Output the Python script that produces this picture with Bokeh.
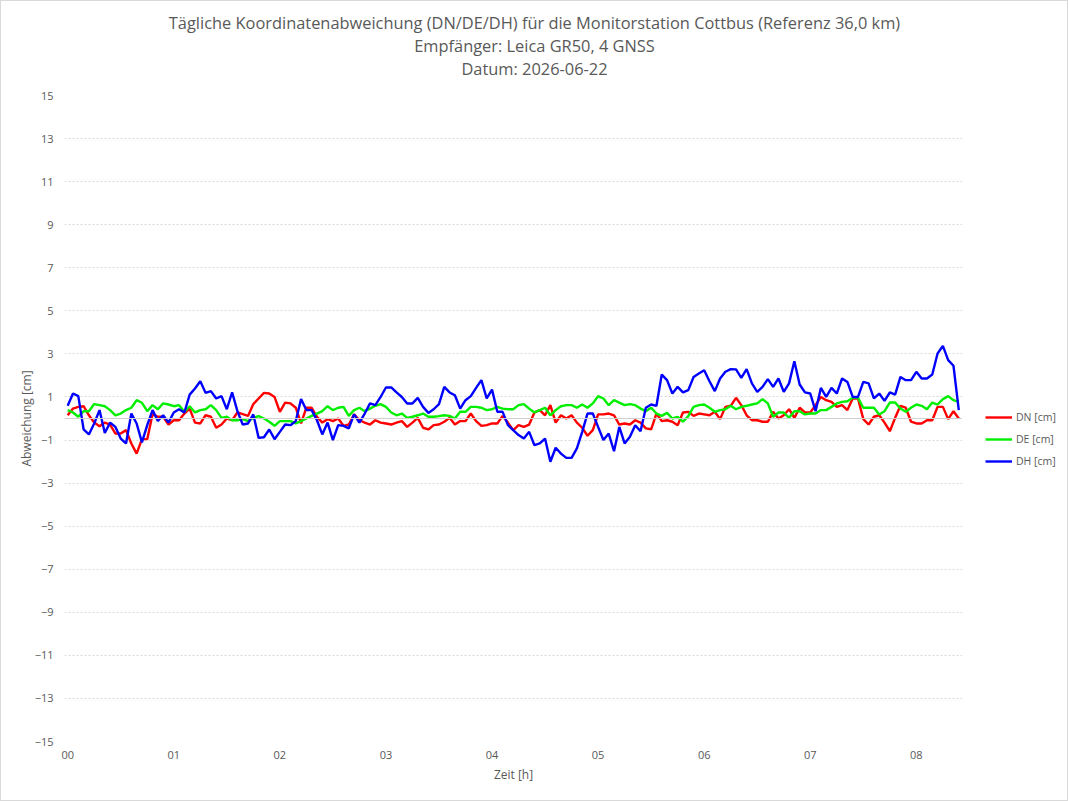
from bokeh.plotting import figure
from bokeh.models import Range1d, FixedTicker, Legend, LegendItem, Span, ColumnDataSource
from bokeh.layouts import column, row
from bokeh.core.properties import value
from bokeh.embed import file_html
from bokeh.resources import INLINE

# ---- data (3-minute samples, hours 0 .. 8.4) ----
minutes = list(range(0, 505, 3))
hours = [m / 60 for m in minutes]

dn = [0.15, 0.46, 0.54, 0.57, 0.15, -0.19, -0.36, -0.19, -0.28, -0.7, -0.7, -0.54, -1.16, -1.63, -0.96, -0.96, 0.2, 0.08, 0.08, -0.28,
      -0.08, -0.08, 0.23, 0.46, -0.19, -0.23, 0.15, 0.08, -0.43, -0.28, 0.0, -0.08, 0.28, 0.2, 0.12, 0.67, 0.93, 1.19, 1.16, 1.0,
      0.31, 0.74,
      0.7, 0.5, -0.23, 0.5, 0.5, 0.08, -0.19, -0.03, -0.12, 0.0, -0.34, -0.28, 0.19, -0.08, -0.19, -0.28, -0.08, -0.19, -0.23, -0.28,
      -0.19, -0.12, -0.39, -0.19, 0.03, -0.43, -0.51, -0.31, -0.28, -0.15, 0.03, -0.28, -0.12, -0.12, 0.23, -0.12, -0.34, -0.31, -0.23, -0.23,
      0.12, -0.19,
      -0.54, -0.31, -0.39, -0.28, 0.28, 0.39, 0.15, 0.62, -0.19, 0.15, 0.0, 0.15, -0.19, -0.43, -0.8, -0.54, 0.19, 0.19, 0.23, 0.15,
      -0.28, -0.23, -0.28, -0.08, -0.19, -0.46, -0.5, 0.23, -0.12, -0.08, -0.15, -0.31, 0.28, 0.31, 0.12, 0.23, 0.19, 0.15, 0.31, -0.03,
      0.54, 0.59,
      0.96, 0.62, 0.15, -0.08, -0.08, -0.15, -0.15, 0.31, 0.0, 0.15, 0.43, 0.03, 0.5, 0.28, 0.28, 0.62, 1.0, 0.85, 0.77, 0.54,
      0.62, 0.39, 0.93, 0.93, -0.03, -0.28, 0.08, 0.15, -0.19, -0.59, 0.03, 0.59, 0.5, -0.15, -0.23, -0.23, -0.08, -0.08, 0.54, 0.54,
      -0.03, 0.34, 0.0]

de = [0.39, 0.28, 0.08, 0.34, 0.34, 0.67, 0.62, 0.57, 0.39, 0.15, 0.23, 0.39, 0.5, 0.85, 0.73, 0.34, 0.62, 0.43, 0.7, 0.65,
      0.57, 0.62, 0.31, 0.57, 0.28, 0.39, 0.43, 0.62, 0.39, 0.03, 0.08, -0.08, -0.08, -0.03, -0.12, 0.03, 0.11, 0.0, -0.15, -0.34,
      -0.12, -0.12,
      -0.12, -0.23, -0.12, 0.0, 0.12, 0.23, 0.34, 0.57, 0.39, 0.5, 0.54, 0.12, 0.39, 0.5, 0.34, 0.46, 0.59, 0.67, 0.54, 0.28,
      0.15, 0.23, 0.03, 0.08, 0.15, 0.23, 0.08, 0.08, 0.11, 0.15, 0.12, 0.0, 0.31, 0.31, 0.54, 0.54, 0.5, 0.39, 0.43, 0.54,
      0.46, 0.43,
      0.43, 0.62, 0.67, 0.46, 0.28, 0.39, 0.5, 0.15, 0.39, 0.57, 0.62, 0.62, 0.5, 0.65, 0.5, 0.7, 1.04, 0.93, 0.62, 0.85,
      0.74, 0.62, 0.67, 0.62, 0.46, 0.34, 0.5, 0.23, 0.12, 0.26, 0.0, 0.08, -0.15, 0.11, 0.54, 0.62, 0.65, 0.5, 0.31, 0.39,
      0.43, 0.59,
      0.43, 0.54, 0.59, 0.65, 0.7, 0.9, 0.7, 0.08, 0.28, 0.28, 0.03, 0.34, 0.34, 0.19, 0.23, 0.23, 0.39, 0.39, 0.54, 0.7,
      0.77, 0.8, 0.96, 0.96, 0.5, 0.5, 0.5, 0.19, 0.34, 0.74, 0.74, 0.46, 0.31, 0.5, 0.65, 0.59, 0.43, 0.74, 0.65, 0.9,
      1.04, 0.85, 0.77]

dh = [0.59, 1.16, 1.04, -0.5, -0.74, -0.23, 0.39, -0.67, -0.19, -0.39, -0.93, -1.16, 0.23, -0.23, -1.11, -0.31, 0.39, -0.11, 0.15, -0.19,
      0.28, 0.43, 0.28, 1.11, 1.39, 1.73, 1.19, 1.27, 0.93, 1.04, 0.43, 1.21, 0.34, -0.28, -0.23, 0.19, -0.9, -0.87, -0.51, -0.96,
      -0.62, -0.28,
      -0.31, -0.12, 0.9, 0.39, 0.39, -0.08, -0.74, -0.19, -1.0, -0.31, -0.34, -0.46, 0.19, -0.19, 0.23, 0.7, 0.62, 1.0, 1.44, 1.44,
      1.21, 1.0, 0.7, 0.7, 0.96, 0.54, 0.26, 0.43, 0.67, 1.47, 1.21, 1.08, 0.46, 0.85, 1.04, 1.42, 1.78, 0.93, 1.34, 0.31,
      0.31, -0.31,
      -0.54, -0.77, -0.93, -0.62, -1.24, -1.16, -0.93, -2.01, -1.36, -1.63, -1.83, -1.83, -1.39, -0.62, 0.23, 0.23, -0.39, -1.0, -0.7, -1.52,
      -0.39, -1.16, -0.85, -0.31, -0.59, 0.5, 0.65, 0.59, 2.04, 1.78, 1.16, 1.47, 1.21, 1.32, 1.93, 2.09, 2.24, 1.73, 1.27, 1.86,
      2.17, 2.29,
      2.28, 1.89, 2.29, 1.63, 1.24, 1.47, 1.83, 1.47, 1.86, 1.24, 1.63, 2.66, 1.58, 1.21, 1.16, 0.34, 1.42, 1.0, 1.42, 1.16,
      1.86, 1.7, 1.0, 1.0, 1.7, 1.63, 0.93, 1.16, 0.82, 1.21, 1.11, 1.93, 1.78, 1.78, 2.17, 1.86, 1.86, 2.04, 3.02, 3.37,
      2.71, 2.45, 0.39]

series_names = ["DN [cm]", "DE [cm]", "DH [cm]"]
series_colors = ["#ff0000", "#00ee00", "#0000ff"]

y_ticks = list(range(-15, 16, 2))
x_ticks = list(range(0, 9))
x_tick_labels = ["00", "01", "02", "03", "04", "05", "06", "07", "08"]

title_lines = [
    "Tägliche Koordinatenabweichung (DN/DE/DH) für die Monitorstation Cottbus (Referenz 36,0 km)",
    "Empfänger: Leica GR50, 4 GNSS",
    "Datum: 2026-06-22",
]

FONT = "Open Sans"
TXT = "#595959"
LW = 2.4

# ---------------- title strip ----------------
TW, TH = 1066, 84
pt = figure(width=TW, height=TH, output_backend="svg", toolbar_location=None,
            x_range=Range1d(0, TW), y_range=Range1d(0, TH),
            x_axis_location=None, y_axis_location=None, min_border=0)
pt.grid.visible = False
pt.outline_line_color = None
title_src = ColumnDataSource(dict(x=[TW / 2] * 3, y=[TH - 21, TH - 44, TH - 67], text=title_lines))
pt.text(x="x", y="y", text="text", source=title_src, text_align="center", text_baseline="middle",
        text_font=value(FONT), text_font_size="16.4px", text_color=TXT)

# ---------------- main chart ----------------
p = figure(width=961, height=715, output_backend="svg", toolbar_location=None,
           x_range=Range1d(-0.03, 8.435), y_range=Range1d(-15, 15),
           min_border_left=63, min_border_right=0, min_border_top=10, min_border_bottom=59)
p.outline_line_color = None

for ax in (p.xaxis[0], p.yaxis[0]):
    ax.axis_line_color = None
    ax.major_tick_line_color = None
    ax.minor_tick_line_color = None
    ax.major_tick_in = 0
    ax.major_tick_out = 0
    ax.major_label_text_font = FONT
    ax.major_label_text_font_size = "11px"
    ax.major_label_text_color = TXT
    ax.axis_label_text_font = FONT
    ax.axis_label_text_font_size = "12px"
    ax.axis_label_text_color = TXT
    ax.axis_label_text_font_style = "normal"

p.xaxis.ticker = FixedTicker(ticks=x_ticks)
p.xaxis.major_label_overrides = {t: l for t, l in zip(x_ticks, x_tick_labels)}
p.xaxis.major_label_standoff = 9
p.xaxis.axis_label = "Zeit [h]"
p.xaxis.axis_label_standoff = 4

p.yaxis.ticker = FixedTicker(ticks=y_ticks)
p.yaxis.major_label_standoff = 11
p.yaxis.axis_label = "Abweichung [cm]"
p.yaxis.axis_label_standoff = -3

p.xgrid.grid_line_color = None
p.ygrid.ticker = FixedTicker(ticks=y_ticks)
p.ygrid.grid_line_color = "#d9d9d9"
p.ygrid.grid_line_dash = "2 2"
p.ygrid.grid_line_width = 1

p.add_layout(Span(location=0, dimension="width", line_color="#d0d0d0", line_width=1))

for vals, col in zip([dn, de, dh], series_colors):
    p.line(hours, vals, line_color=col, line_width=LW)

# ---------------- legend strip ----------------
# the same series are drawn here outside the visible range, only to feed the legend
pl = figure(width=105, height=715, output_backend="svg", toolbar_location=None,
            x_range=Range1d(-100, -99), y_range=Range1d(-100, -99),
            x_axis_location=None, y_axis_location=None, min_border=0)
pl.grid.visible = False
pl.outline_line_color = None
items = []
for name, vals, col in zip(series_names, [dn, de, dh], series_colors):
    r = pl.line(hours, vals, line_color=col, line_width=LW)
    items.append(LegendItem(label=name, renderers=[r]))
legend = Legend(items=items, location=(23, 272), orientation="vertical",
                label_text_font=FONT, label_text_font_size="10.5px", label_text_color=TXT,
                glyph_width=27, glyph_height=16, label_standoff=4, spacing=6,
                padding=0, margin=0, border_line_color=None, background_fill_alpha=0)
pl.add_layout(legend, "center")

layout = column(pt, row(p, pl, spacing=0), spacing=0)
layout.styles = {"border": "1px solid #d9d9d9"}

open("out.html", "w").write(file_html(layout, INLINE))
